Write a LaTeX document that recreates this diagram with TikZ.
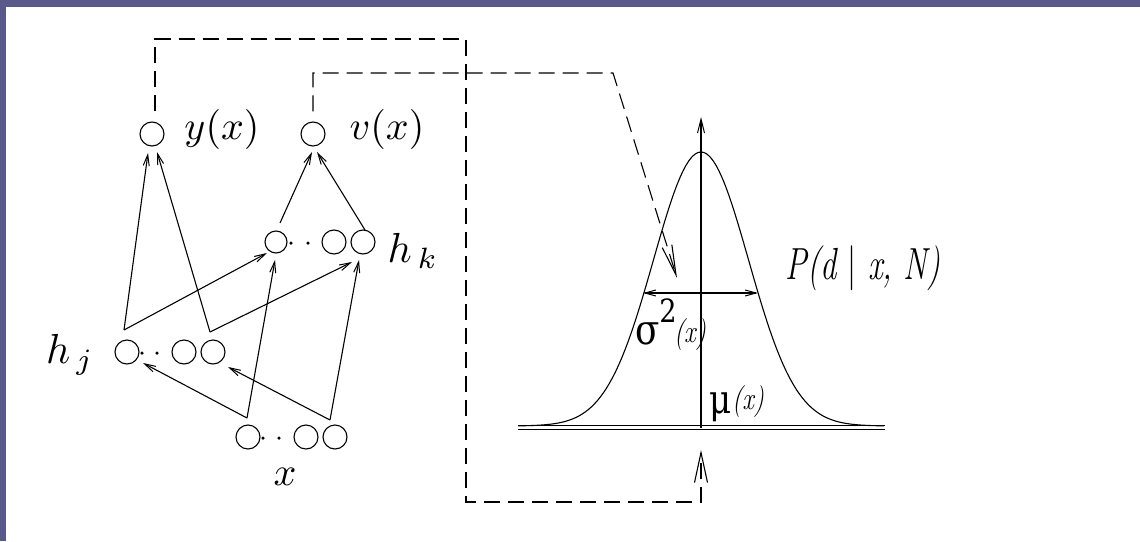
\documentclass[tikz,border=0pt]{standalone}
\usepackage{fontspec}
\newfontfamily\dvserif{DejaVu Serif}
\usetikzlibrary{arrows.meta,calc}
\definecolor{bgpurple}{RGB}{90,90,138}
\newcommand{\cmlbl}[2]{\scalebox{#1}{$#2$}}
\newcommand{\itlbl}[3]{\scalebox{#1}[1]{\fontsize{#2}{#2}\selectfont\itshape #3}}
\newcommand{\grlbl}[2]{\scalebox{0.85}[1]{\fontsize{#1}{#1}\selectfont\dvserif #2}}
\begin{document}
\begin{tikzpicture}[x=1pt,y=-1pt,
  unit/.style={circle,draw,line width=1.1pt,minimum size=24pt,inner sep=0pt},
  dotn/.style={circle,fill,minimum size=3.5pt,inner sep=0pt},
  arr/.style={line width=1.1pt,-{Straight Barb[length=11pt,width=6pt,line width=1pt]}},
  fbk/.style={line width=1.1pt,dash pattern=on 16pt off 8pt},
  lab/.style={inner sep=0pt},
  curve/.style={line width=1.1pt}
]
\fill[bgpurple] (0,0) rectangle (1140,541);
\fill[white] (6,7) rectangle (1140,541);
\useasboundingbox (0,0) rectangle (1140,541);

% network units
\node[unit] (y) at (152,134) {};
\node[unit] (v) at (313,134) {};
\node[unit,minimum size=22pt] (hk1) at (276,242) {};
\node[unit] (hk2) at (334,242) {};
\node[unit] (hk3) at (363,242) {};
\node[unit] (hj1) at (127,352) {};
\node[unit] (hj2) at (184,352) {};
\node[unit] (hj3) at (213,352) {};
\node[unit] (x1) at (248,437) {};
\node[unit] (x2) at (306,437) {};
\node[unit] (x3) at (335,437) {};
\node[dotn] (hkd1) at (291,243) {};
\node[dotn] (hkd2) at (308,243) {};
\node[dotn] (hjd1) at (142,353) {};
\node[dotn] (hjd2) at (157,353) {};
\node[dotn] (xd1) at (263,438) {};
\node[dotn] (xd2) at (279,438) {};

% labels
\node[lab] (ylab) at (222,129) {\cmlbl{4}{y(x)}};
\node[lab] (vlab) at (387,129) {\cmlbl{4}{v(x)}};
\node[lab] (hklab) at (413,251) {\cmlbl{4.2}{h_{\,k}}};
\node[lab] (hjlab) at (70,355) {\cmlbl{4.2}{h_{\,j}}};
\node[lab] (xlab) at (285,477) {\cmlbl{4}{x}};

% branch points
\coordinate (jt1) at ($(hj1)+(-3,-22)$);
\coordinate (jt3) at ($(hj3)+(-3,-20)$);
\coordinate (kt1) at ($(hk1)+(4,-19)$);
\coordinate (kt3) at ($(hk3)+(2,-12)$);
\coordinate (xt1) at ($(x1)+(-1,-19)$);
\coordinate (xt3) at ($(x3)+(-5,-17)$);

\draw[arr] (jt1) -- ($(y)+(-4,19)$);
\draw[arr] (jt1) -- ($(hk1)+(-9,11)$);
\draw[arr] (jt3) -- ($(y)+(5,18)$);
\draw[arr] (jt3) -- ($(hk3)+(-11,20)$);
\draw[arr] (kt1) -- ($(v)+(-1,18)$);
\draw[arr] (kt3) -- ($(v)+(4,18)$);
\draw[arr] (xt1) -- ($(hj1)+(16,11)$);
\draw[arr] (xt1) -- ($(hk1)+(-1,18)$);
\draw[arr] (xt3) -- ($(hj3)+(15,15)$);
\draw[arr] (xt3) -- ($(hk3)+(-4,18)$);

% gaussian
\coordinate (mu) at (701,428);
\coordinate (top) at (701,117);
\draw[curve,-{Straight Barb[length=14pt,width=7pt,line width=1pt]}] (mu) -- (top);
\draw[curve] plot[domain=-183:183,samples=121] ({701+\x},{426-274*exp(-0.5*(\x/47.5)^2)});
\draw[line width=1pt] (518,425.5) -- (885,425.5);
\draw[line width=1pt] (518,429.5) -- (885,429.5);
\coordinate (sl) at (643,293);
\coordinate (sr) at (758,293);
\draw[curve,{Straight Barb[length=11pt,width=6pt,line width=1pt]}-{Straight Barb[length=11pt,width=6pt,line width=1pt]}] (sl) -- (sr);

\node[lab] (sig) at (648,334) {\grlbl{42}{σ}};
\node[lab] (sig2) at (668,311) {\grlbl{32}{2}};
\node[lab] (sigx) at (690,335) {\itlbl{0.8}{32}{(x)}};
\node[lab] (mul) at (721,407) {\grlbl{40}{μ}};
\node[lab] (mux) at (748,402) {\itlbl{0.8}{32}{(x)}};
\node[lab] (P) at (863,268) {\itlbl{0.72}{45}{P(d {\upshape|} x, N)}};

% feedback dashed paths
\coordinate (o1) at ($(y.north)+(3,-10)$);
\coordinate (btip) at ($(mu)+(0,22)$);
\draw[fbk,-{Straight Barb[length=30pt,width=13pt,line width=1.1pt]}] (o1) -- (155,39) -- (466,39) -- (466,502) -- (701,502) -- (btip);
\coordinate (o2) at ($(v.north)+(0,-10)$);
\coordinate (stip) at (677,278);
\draw[fbk,-{Straight Barb[length=30pt,width=10pt,line width=1.1pt]}] (o2) -- (313,73) -- (613,73) -- (stip);
\end{tikzpicture}
\end{document}
